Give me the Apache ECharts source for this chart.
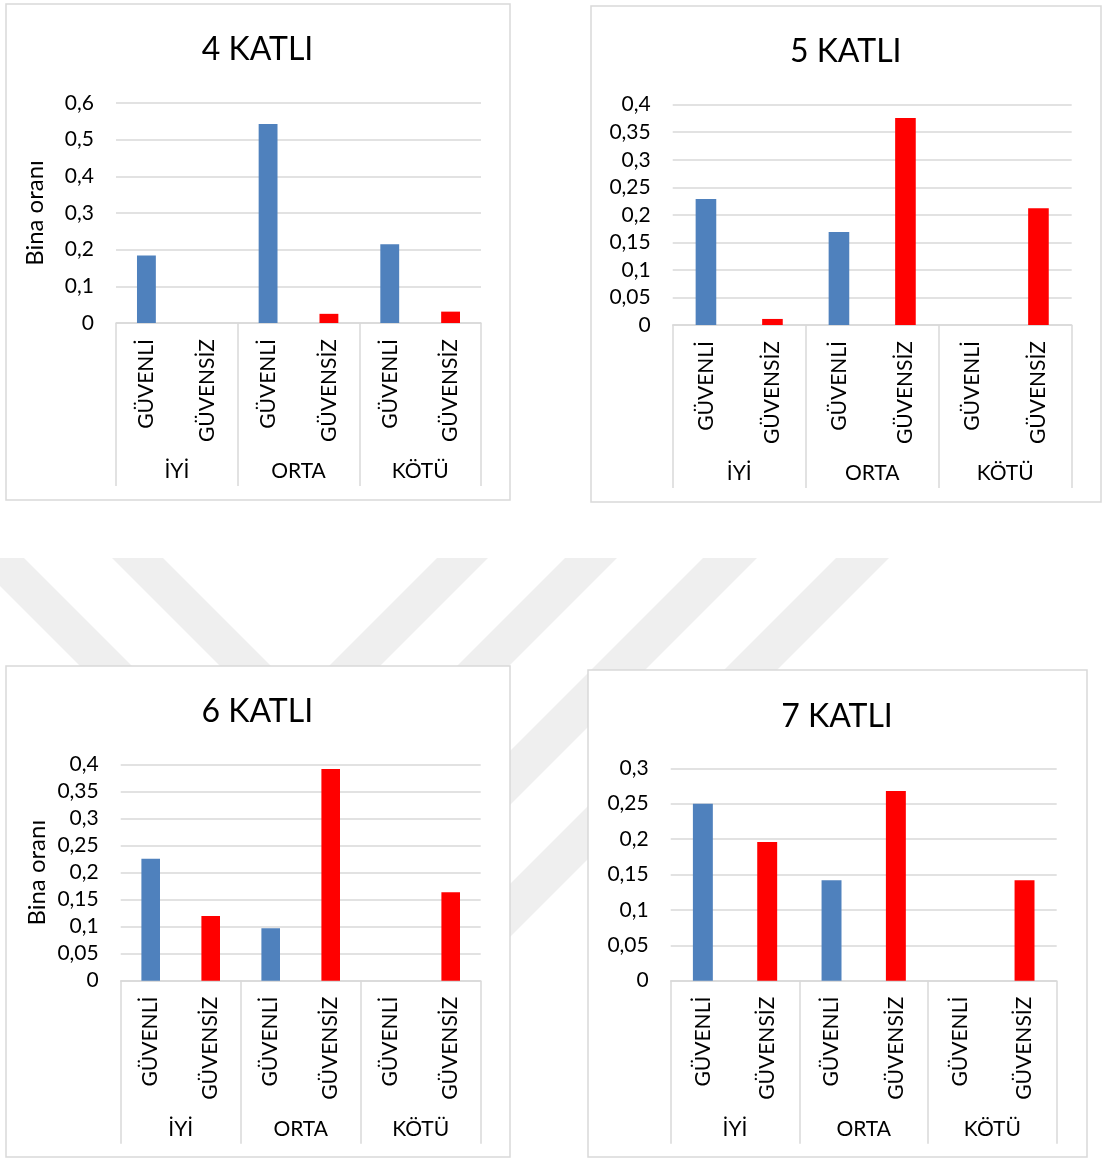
<!DOCTYPE html>
<html><head><meta charset="utf-8">
<script src="https://cdn.jsdelivr.net/npm/echarts@6/dist/echarts.min.js"></script>
<style>html,body{margin:0;padding:0;background:#fff}#c{width:1103px;height:1158px}</style>
</head><body><div id="c"></div>
<script>
// ---- data ----
const groups = ['İYİ', 'ORTA', 'KÖTÜ'];
const statuses = ['GÜVENLİ', 'GÜVENSİZ'];
const titles = ['4 KATLI', '5 KATLI', '6 KATLI', '7 KATLI'];
const guvenli4 = [0.184, 0.543, 0.215];
const guvensiz4 = [0, 0.025, 0.031];
const guvenli5 = [0.229, 0.169, 0];
const guvensiz5 = [0.011, 0.376, 0.212];
const guvenli6 = [0.226, 0.097, 0];
const guvensiz6 = [0.12, 0.392, 0.164];
const guvenli7 = [0.25, 0.142, 0];
const guvensiz7 = [0.196, 0.268, 0.142];
const yMax = [0.6, 0.4, 0.4, 0.3];
const yStep = [0.1, 0.05, 0.05, 0.05];
const yNames = ['Bina oranı', '', 'Bina oranı', ''];

// ---- layout / style ----
const FONT = 'Lato';
const BLUE = '#4f81bd', RED = '#ff0000', LINE = '#d9d9d9';
const panels = [
  {box: [6, 4, 504, 496], grid: {left: 116, top: 103, width: 365, height: 220}, title: [257.5, 48], nameGap: 69},
  {box: [591, 6, 510, 496], grid: {left: 672.7, top: 104.7, width: 399, height: 220.3}, title: [845.7, 50], nameGap: 69},
  {box: [6, 666, 504, 491], grid: {left: 120.7, top: 764.7, width: 360, height: 216}, title: [257.3, 710], nameGap: 71},
  {box: [588, 670, 499, 487], grid: {left: 670.7, top: 768.3, width: 386, height: 212.4}, title: [837, 715], nameGap: 69}
];
const seriesData = [[guvenli4, guvensiz4], [guvenli5, guvensiz5], [guvenli6, guvensiz6], [guvenli7, guvensiz7]];

// watermark stripes (decorative)
const stripes = [
  [[-28, 558], [24, 558], [136, 670], [84, 670]],
  [[112, 558], [163, 558], [275, 670], [224, 670]],
  [[437, 558], [488, 558], [346, 700], [295, 700]],
  [[565, 558], [617, 558], [475, 700], [423, 700]],
  [[703, 558], [757, 558], [365, 950], [311, 950]],
  [[836, 558], [889, 558], [497, 950], [444, 950]]
];

const categories = [];
groups.forEach(g => statuses.forEach(s => categories.push(s)));

const fmt = v => String(+Number(v).toFixed(2)).replace('.', ',');

const option = {
  backgroundColor: '#fff',
  animation: false,
  textStyle: {fontFamily: FONT},
  title: [], grid: [], xAxis: [], yAxis: [], series: [],
  graphic: []
};

stripes.forEach(p => option.graphic.push({
  type: 'polygon', z: -20, silent: true,
  shape: {points: p}, style: {fill: '#efefef'}
}));

panels.forEach((p, i) => {
  option.graphic.push({
    type: 'rect', z: -10, silent: true,
    shape: {x: p.box[0], y: p.box[1], width: p.box[2], height: p.box[3]},
    style: {fill: '#fff', stroke: LINE, lineWidth: 1.5}
  });
  option.title.push({
    text: titles[i], left: p.title[0], top: p.title[1] - 14, textAlign: 'center', padding: 0,
    textStyle: {fontFamily: FONT, fontSize: 32, fontWeight: 'normal', color: '#000'}
  });
  option.grid.push(Object.assign({containLabel: false}, p.grid));
  option.xAxis.push({
    type: 'category', gridIndex: i, position: 'bottom', data: categories,
    axisLine: {show: true, lineStyle: {color: LINE, width: 1.5}},
    axisTick: {show: false},
    axisLabel: {interval: 0, rotate: 90, margin: 16, fontSize: 21, color: '#000', fontFamily: FONT},
    splitLine: {show: false}
  });
  option.xAxis.push({
    type: 'category', gridIndex: i, position: 'bottom', data: groups,
    axisLine: {show: false},
    axisTick: {show: true, interval: 0, length: 163, lineStyle: {color: LINE, width: 1.5}},
    axisLabel: {interval: 0, margin: 138, fontSize: 21, color: '#000', fontFamily: FONT},
    splitLine: {show: false}
  });
  option.yAxis.push({
    type: 'value', gridIndex: i, min: 0, max: yMax[i], interval: yStep[i],
    axisLine: {show: false}, axisTick: {show: false},
    splitLine: {show: true, lineStyle: {color: LINE, width: 1.5}},
    axisLabel: {margin: 22, fontSize: 21, color: '#000', fontFamily: FONT, formatter: fmt},
    name: yNames[i], nameLocation: 'middle', nameGap: p.nameGap,
    nameTextStyle: {fontSize: 24, color: '#000', fontFamily: FONT}
  });
  const [gv, gs] = seriesData[i];
  const data = [];
  groups.forEach((g, k) => {
    data.push({value: gv[k], itemStyle: {color: BLUE}});
    data.push({value: gs[k], itemStyle: {color: RED}});
  });
  option.series.push({
    type: 'bar', xAxisIndex: i * 2, yAxisIndex: i, data: data,
    barWidth: '31%', silent: true
  });
});

const chart = echarts.init(document.getElementById('c'), null, {renderer: 'canvas'});
chart.setOption(option);
</script>
</body></html>
